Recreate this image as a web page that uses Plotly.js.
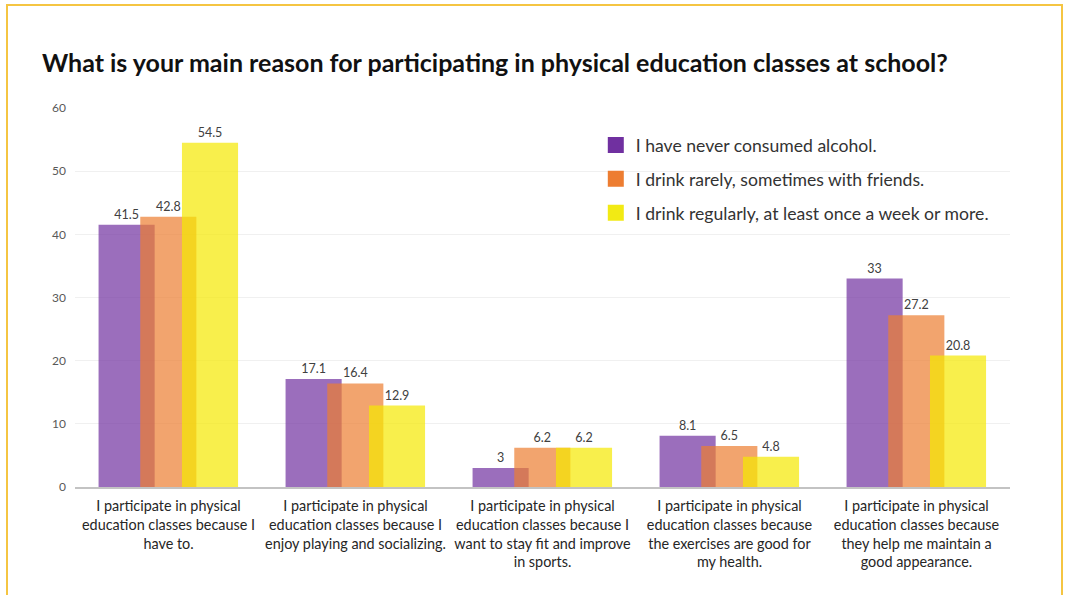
<!DOCTYPE html>
<html>
<head>
<meta charset="utf-8">
<script src="https://cdn.plot.ly/plotly-3.0.1.min.js"></script>
<style>
  html, body { margin: 0; padding: 0; background: #ffffff; }
  #wrap { position: relative; width: 1084px; height: 595px; overflow: hidden; }
  #chart { position: absolute; left: 0; top: 0; width: 1084px; height: 595px; }
  #frame { position: absolute; left: 6px; top: 4px; width: 1053px; height: 620px;
           border: 2px solid #f5c542; pointer-events: none; }
</style>
</head>
<body>
<div id="wrap">
  <div id="chart"></div>
  <div id="frame"></div>
</div>
<script>
// ---- data ----
const categories = [
  "I participate in physical education classes because I have to.",
  "I participate in physical education classes because I enjoy playing and socializing.",
  "I participate in physical education classes because I want to stay fit and improve in sports.",
  "I participate in physical education classes because the exercises are good for my health.",
  "I participate in physical education classes because they help me maintain a good appearance."
];
const tickLabels = [
  "I participate in physical<br>education classes because I<br>have to.",
  "I participate in physical<br>education classes because I<br>enjoy playing and socializing.",
  "I participate in physical<br>education classes because I<br>want to stay fit and improve<br>in sports.",
  "I participate in physical<br>education classes because<br>the exercises are good for<br>my health.",
  "I participate in physical<br>education classes because<br>they help me maintain a<br>good appearance."
];
const seriesNames = [
  "I have never consumed alcohol.",
  "I drink rarely, sometimes with friends.",
  "I drink regularly, at least once a week or more."
];
const neverValues   = [41.5, 17.1, 3, 8.1, 33];
const rarelyValues  = [42.8, 16.4, 6.2, 6.5, 27.2];
const regularValues = [54.5, 12.9, 6.2, 4.8, 20.8];
const yTicks = [0, 10, 20, 30, 40, 50, 60];

// ---- style ----
const solidColors = ["#7030a0", "#ed7d31", "#f2ea14"];
const barColors   = ["rgba(112,48,160,0.70)", "rgba(237,125,49,0.70)", "rgba(245,232,0,0.70)"];
const offsets = [-0.374, -0.151, 0.072];
const barWidth = 0.30;
const FONT = "Lato, 'Open Sans', sans-serif";

const allValues = [neverValues, rarelyValues, regularValues];
const traces = [];
allValues.forEach((vals, i) => {
  traces.push({
    type: "bar",
    x: categories,
    y: vals,
    name: seriesNames[i],
    showlegend: false,
    width: categories.map(() => barWidth),
    offset: categories.map(() => offsets[i]),
    marker: { color: barColors[i], line: { width: 0 } },
    text: vals.map(v => String(v)),
    textposition: "outside",
    texttemplate: "%{text}",
    textfont: { family: FONT, size: 12.5, color: "#404040" },
    cliponaxis: false,
    hoverinfo: "x+y+name"
  });
});
// legend entries with solid colours
seriesNames.forEach((n, i) => {
  traces.push({
    type: "scatter",
    mode: "markers",
    x: [categories[0]],
    y: [null],
    name: n,
    legendgroup: "g" + i,
    showlegend: true,
    marker: { symbol: "square", size: 16, color: solidColors[i] },
    hoverinfo: "skip"
  });
});

const layout = {
  width: 1084,
  height: 595,
  paper_bgcolor: "#ffffff",
  plot_bgcolor: "#ffffff",
  barmode: "overlay",
  margin: { l: 75, r: 74, t: 108, b: 108 },
  font: { family: FONT, color: "#404040" },
  title: {
    text: "<b>What is your main reason for participating in physical education classes at school?</b>",
    font: { family: FONT, size: 25, color: "#111111" },
    xref: "container", yref: "container",
    x: 0.0387, xanchor: "left",
    y: 0.894, yanchor: "middle"
  },
  xaxis: {
    type: "category",
    tickvals: categories,
    ticktext: tickLabels,
    tickfont: { family: FONT, size: 14.4, color: "#262626" },
    showline: true, linecolor: "#c3c3c3", linewidth: 2,
    showgrid: false, ticks: "", ticklabelstandoff: 5, fixedrange: true
  },
  yaxis: {
    range: [0, 60],
    tickvals: yTicks,
    tickfont: { family: FONT, size: 12, color: "#595959" },
    showgrid: true, gridcolor: "#f0f0f0", gridwidth: 1,
    zeroline: false, showline: false, ticks: "",
    ticklabelstandoff: 8, fixedrange: true
  },
  legend: {
    x: 0.557, xanchor: "left",
    y: 0.95, yanchor: "top",
    font: { family: FONT, size: 17.6, color: "#333333" },
    bgcolor: "rgba(0,0,0,0)",
    traceorder: "grouped",
    tracegroupgap: 8
  },
  showlegend: true
};

Plotly.newPlot("chart", traces, layout, { displayModeBar: false, staticPlot: true });
</script>
</body>
</html>
